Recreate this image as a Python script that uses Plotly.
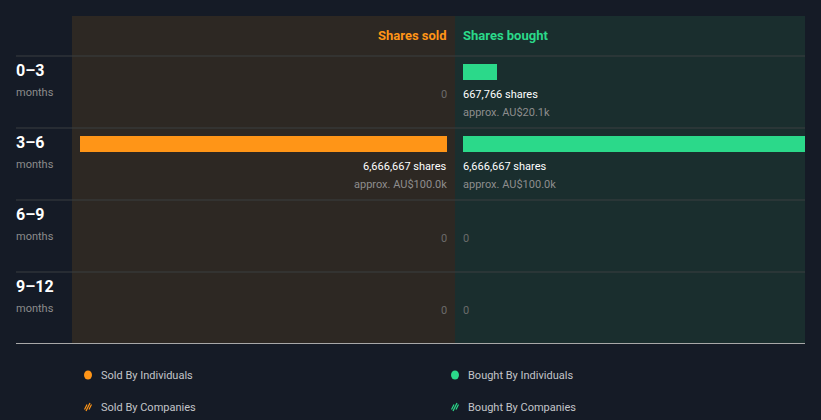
import plotly.graph_objects as go

# ---- data ----
periods = ["0–3", "3–6", "6–9", "9–12"]
sold_shares = [0, 6666667, 0, 0]
sold_value = ["", "approx. AU$100.0k", "", ""]
bought_shares = [667766, 6666667, 0, 0]
bought_value = ["approx. AU$20.1k", "approx. AU$100.0k", "", ""]
legend_labels = ["Sold By Individuals", "Sold By Companies", "Bought By Individuals", "Bought By Companies"]

W, H = 821, 420
BG = "#151b26"
SOLD_BG = "#2d2823"
BOUGHT_BG = "#1a2e2e"
ORANGE = "#ff9517"
GREEN = "#2bd98a"
FONT = "Roboto"

ROW_TOP0 = 56
ROW_H = 72
xmax = max(max(sold_shares), max(bought_shares))

def px_x(p):
    return p / W

def px_y(p):
    return 1 - p / H

# y axis in "row units": pixel y = ROW_TOP0 + ROW_H*u
y_top = -ROW_TOP0 / ROW_H
y_bot = (H - ROW_TOP0) / ROW_H
bar_off = 8 / ROW_H
bar_w = 16 / ROW_H
txt1_off = 38 / ROW_H
txt2_off = 56 / ROW_H

fig = go.Figure()

rows = list(range(len(periods)))
fig.add_trace(go.Bar(
    x=sold_shares, y=[r + bar_off + bar_w / 2 for r in rows], orientation="h",
    width=bar_w, marker=dict(color=ORANGE, line=dict(width=0)),
    xaxis="x", yaxis="y", showlegend=False, hoverinfo="skip"))
fig.add_trace(go.Bar(
    x=bought_shares, y=[r + bar_off + bar_w / 2 for r in rows], orientation="h",
    width=bar_w, marker=dict(color=GREEN, line=dict(width=0)),
    xaxis="x2", yaxis="y", showlegend=False, hoverinfo="skip"))

shapes = []
# panels
shapes.append(dict(type="rect", xref="paper", yref="paper", x0=px_x(72), x1=px_x(455),
                   y0=px_y(343), y1=px_y(16), fillcolor=SOLD_BG, line=dict(width=0), layer="below"))
shapes.append(dict(type="rect", xref="paper", yref="paper", x0=px_x(455), x1=px_x(805),
                   y0=px_y(343), y1=px_y(16), fillcolor=BOUGHT_BG, line=dict(width=0), layer="below"))
# row separators
for r in rows:
    shapes.append(dict(type="line", xref="paper", yref="y", x0=px_x(16), x1=px_x(805),
                       y0=r, y1=r, line=dict(color="#3b3e41", width=1), layer="below"))
shapes.append(dict(type="line", xref="paper", yref="paper", x0=px_x(16), x1=px_x(805),
                   y0=px_y(343.5), y1=px_y(343.5), line=dict(color="#a8a8a8", width=1)))

ann = []
SH = 2
ann.append(dict(text="<b>Shares sold</b>", xref="x", yref="paper", x=0, y=px_y(35),
                xanchor="right", yanchor="middle", showarrow=False, xshift=SH,
                font=dict(family=FONT, size=13, color=ORANGE)))
ann.append(dict(text="<b>Shares bought</b>", xref="x2", yref="paper", x=0, y=px_y(35),
                xanchor="left", yanchor="middle", showarrow=False, xshift=-SH,
                font=dict(family=FONT, size=13, color=GREEN)))

for r, p in enumerate(periods):
    ann.append(dict(text=f"<b>{p}</b>", xref="paper", yref="y", x=px_x(16), y=r + 14 / ROW_H,
                    xanchor="left", yanchor="middle", showarrow=False, xshift=-SH,
                    font=dict(family=FONT, size=16, color="#ffffff")))
    ann.append(dict(text="months", xref="paper", yref="y", x=px_x(16), y=r + 36 / ROW_H,
                    xanchor="left", yanchor="middle", showarrow=False, xshift=-SH,
                    font=dict(family=FONT, size=11, color="#8c8c8c")))
    for val, vtxt, xr, anchor, sh in [(sold_shares[r], sold_value[r], "x", "right", SH),
                                      (bought_shares[r], bought_value[r], "x2", "left", -SH)]:
        if val == 0:
            ann.append(dict(text="0", xref=xr, yref="y", x=0, y=r + txt1_off,
                            xanchor=anchor, yanchor="middle", showarrow=False, xshift=sh,
                            font=dict(family=FONT, size=11, color="#6b6b6b")))
        else:
            ann.append(dict(text=f"{val:,} shares", xref=xr, yref="y", x=0, y=r + txt1_off,
                            xanchor=anchor, yanchor="middle", showarrow=False, xshift=sh,
                            font=dict(family=FONT, size=11, color="#ffffff")))
            ann.append(dict(text=vtxt, xref=xr, yref="y", x=0, y=r + txt2_off,
                            xanchor=anchor, yanchor="middle", showarrow=False, xshift=sh,
                            font=dict(family=FONT, size=11, color="#8d8d8d")))

# legend
leg_pos = [(88, 375, ORANGE, False), (88, 407, ORANGE, True),
           (455, 375, GREEN, False), (455, 407, GREEN, True)]
for lbl, (lx, ly, col, hatched) in zip(legend_labels, leg_pos):
    if not hatched:
        shapes.append(dict(type="circle", xref="paper", yref="paper",
                           x0=px_x(lx - 4), x1=px_x(lx + 4), y0=px_y(ly + 4.5), y1=px_y(ly - 4.5),
                           fillcolor=col, line=dict(width=0)))
    else:
        for d, hgt in ((-2.2, 2.5), (0, 4), (2.2, 2.5)):
            shapes.append(dict(type="line", xref="paper", yref="paper",
                               x0=px_x(lx - hgt / 2 + d), x1=px_x(lx + hgt / 2 + d),
                               y0=px_y(ly + hgt), y1=px_y(ly - hgt),
                               line=dict(color=col, width=1.2)))
    ann.append(dict(text=lbl, xref="paper", yref="paper", x=px_x(lx + 13), y=px_y(ly),
                    xanchor="left", yanchor="middle", showarrow=False, xshift=-SH,
                    font=dict(family=FONT, size=11, color="#c3c5c9")))

fig.update_layout(
    width=W, height=H, margin=dict(l=0, r=0, t=0, b=0),
    paper_bgcolor=BG, plot_bgcolor="rgba(0,0,0,0)",
    bargap=0, barmode="overlay",
    xaxis=dict(domain=[px_x(80), px_x(447)], range=[xmax, 0], visible=False, fixedrange=True),
    xaxis2=dict(domain=[px_x(463), px_x(805)], range=[0, xmax], visible=False, fixedrange=True,
                anchor="y"),
    yaxis=dict(domain=[0, 1], range=[y_bot, y_top], visible=False, fixedrange=True),
    shapes=shapes, annotations=ann, showlegend=False,
)

fig.write_html("out.html")
